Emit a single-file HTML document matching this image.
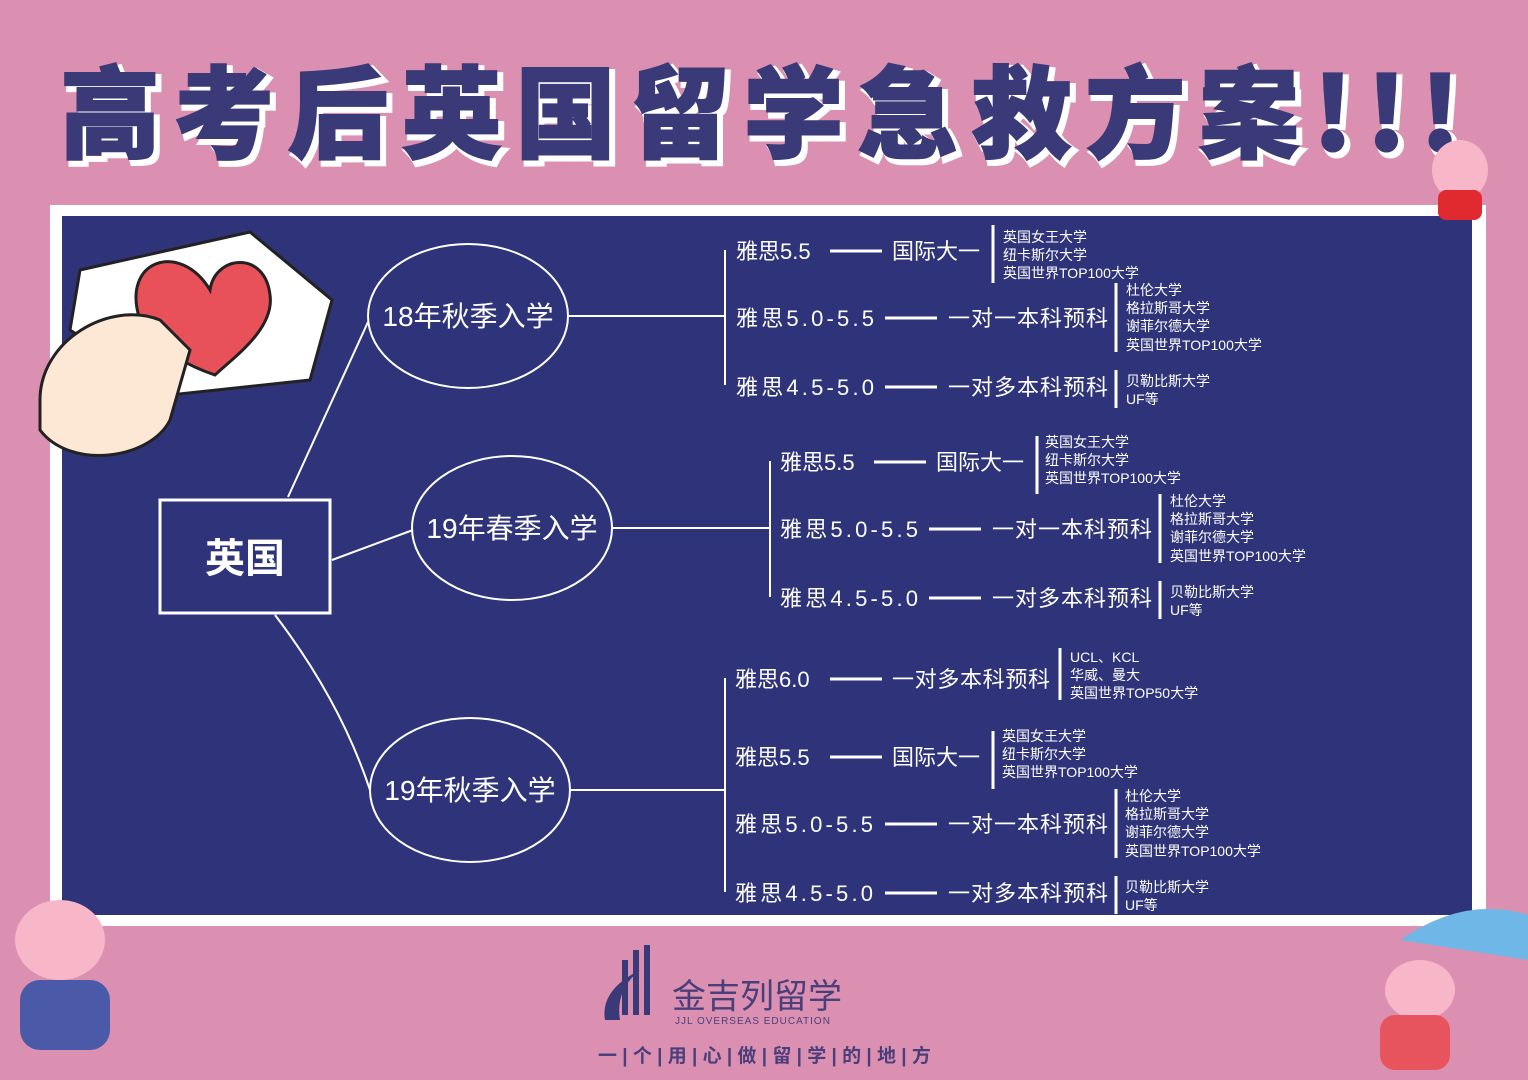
<!DOCTYPE html>
<html><head><meta charset="utf-8"><style>
body{margin:0;width:1528px;height:1080px;background:#dc90b1;overflow:hidden;font-family:"Liberation Sans","Noto Sans CJK SC",sans-serif}
</style></head><body>
<svg width="1528" height="1080" viewBox="0 0 1528 1080" xmlns="http://www.w3.org/2000/svg" style="position:absolute;left:0;top:0">
<rect width="1528" height="1080" fill="#dc90b1"/>
<text x="64" y="154" font-size="100" font-weight="900" fill="#fff" font-family="Noto Sans CJK SC,sans-serif" textLength="1400" lengthAdjust="spacing" stroke="#fff" stroke-width="6">高考后英国留学急救方案!!!</text>
<text x="60" y="150" font-size="100" font-weight="900" fill="#3b3a78" font-family="Noto Sans CJK SC,sans-serif" textLength="1400" lengthAdjust="spacing" stroke="#3b3a78" stroke-width="2">高考后英国留学急救方案!!!</text>
<rect x="50" y="205" width="1436" height="721" fill="#fff"/>
<rect x="62" y="216" width="1410" height="699" fill="#2f347a"/>
<!-- decorations -->
<polygon points="80,270 250,232 332,300 310,380 170,395 70,330" fill="#fff" stroke="#222" stroke-width="3"/>
<path d="M210 290 C180 240 120 260 140 320 C150 350 200 370 215 375 C230 360 275 330 270 295 C265 250 215 255 210 290Z" fill="#e8505a" stroke="#222" stroke-width="3"/>
<path d="M40 400 C40 340 110 300 160 320 L190 350 L170 420 C150 460 70 470 40 430Z" fill="#fde8d6" stroke="#222" stroke-width="3"/>
<ellipse cx="1460" cy="170" rx="28" ry="30" fill="#f7b7c8"/>
<rect x="1438" y="190" width="44" height="30" rx="8" fill="#e02a30"/>
<ellipse cx="60" cy="940" rx="45" ry="40" fill="#f7b7c8"/>
<rect x="20" y="980" width="90" height="70" rx="20" fill="#4a5aa8"/>
<path d="M1400 940 Q1465 895 1528 915 L1528 960 Z" fill="#6fb7e6"/>
<ellipse cx="1420" cy="990" rx="35" ry="30" fill="#f7b7c8"/>
<rect x="1380" y="1015" width="70" height="55" rx="15" fill="#e8545e"/>
<g stroke="#fff" stroke-width="2" fill="none">
<ellipse cx="468" cy="316" rx="100" ry="72"/>
<ellipse cx="512" cy="528" rx="100" ry="72"/>
<ellipse cx="470" cy="790" rx="100" ry="72"/>
<rect x="160" y="500" width="170" height="113" stroke-width="3"/>
<line x1="288" y1="497" x2="368" y2="322"/>
<line x1="332" y1="560" x2="413" y2="530"/>
<path d="M275 615 Q340 700 370 790"/>
<line x1="568" y1="316" x2="725" y2="316"/>
<line x1="725" y1="250" x2="725" y2="385"/>
<line x1="612" y1="528" x2="770" y2="528"/>
<line x1="770" y1="461" x2="770" y2="597"/>
<line x1="570" y1="790" x2="725" y2="790"/>
<line x1="725" y1="678" x2="725" y2="892"/>
</g>
<g stroke="#fff" stroke-width="3">
<line x1="830" y1="251" x2="882" y2="251"/><line x1="885" y1="318" x2="937" y2="318"/><line x1="885" y1="387" x2="937" y2="387"/>
<line x1="874" y1="462" x2="926" y2="462"/><line x1="929" y1="529" x2="981" y2="529"/><line x1="929" y1="598" x2="981" y2="598"/>
<line x1="830" y1="679" x2="882" y2="679"/><line x1="830" y1="757" x2="882" y2="757"/><line x1="885" y1="824" x2="937" y2="824"/><line x1="885" y1="893" x2="937" y2="893"/>
<line x1="993" y1="225" x2="993" y2="283"/><line x1="1116" y1="283" x2="1116" y2="352"/><line x1="1116" y1="370" x2="1116" y2="408"/>
<line x1="1037" y1="436" x2="1037" y2="494"/><line x1="1160" y1="494" x2="1160" y2="563"/><line x1="1160" y1="581" x2="1160" y2="619"/>
<line x1="1060" y1="648" x2="1060" y2="700"/>
<line x1="993" y1="731" x2="993" y2="789"/><line x1="1116" y1="789" x2="1116" y2="858"/><line x1="1116" y1="876" x2="1116" y2="914"/>
</g>
<g fill="#fff" font-size="28">
<text x="468" y="326" text-anchor="middle">18年秋季入学</text>
<text x="512" y="538" text-anchor="middle">19年春季入学</text>
<text x="470" y="800" text-anchor="middle">19年秋季入学</text>
<text x="245" y="572" text-anchor="middle" font-size="40" font-weight="bold">英国</text>
</g>
<g fill="#fff" font-size="22">
<text x="736" y="259">雅思5.5</text><text x="892" y="259">国际大一</text>
<text x="736" y="326" textLength="138">雅思5.0-5.5</text><text x="948" y="326" textLength="160">一对一本科预科</text>
<text x="736" y="395" textLength="138">雅思4.5-5.0</text><text x="948" y="395" textLength="160">一对多本科预科</text>
<text x="780" y="470">雅思5.5</text><text x="936" y="470">国际大一</text>
<text x="780" y="537" textLength="138">雅思5.0-5.5</text><text x="992" y="537" textLength="160">一对一本科预科</text>
<text x="780" y="606" textLength="138">雅思4.5-5.0</text><text x="992" y="606" textLength="160">一对多本科预科</text>
<text x="735" y="687">雅思6.0</text><text x="892" y="687" textLength="158">一对多本科预科</text>
<text x="735" y="765">雅思5.5</text><text x="892" y="765">国际大一</text>
<text x="735" y="832" textLength="138">雅思5.0-5.5</text><text x="948" y="832" textLength="160">一对一本科预科</text>
<text x="735" y="901" textLength="138">雅思4.5-5.0</text><text x="948" y="901" textLength="160">一对多本科预科</text>
</g>
<g fill="#fff" font-size="14">
<text x="1003" y="242">英国女王大学</text><text x="1003" y="260">纽卡斯尔大学</text><text x="1003" y="278">英国世界TOP100大学</text>
<text x="1126" y="295">杜伦大学</text><text x="1126" y="313">格拉斯哥大学</text><text x="1126" y="331">谢菲尔德大学</text><text x="1126" y="350">英国世界TOP100大学</text>
<text x="1126" y="386">贝勒比斯大学</text><text x="1126" y="404">UF等</text>
<text x="1045" y="447">英国女王大学</text><text x="1045" y="465">纽卡斯尔大学</text><text x="1045" y="483">英国世界TOP100大学</text>
<text x="1170" y="506">杜伦大学</text><text x="1170" y="524">格拉斯哥大学</text><text x="1170" y="542">谢菲尔德大学</text><text x="1170" y="561">英国世界TOP100大学</text>
<text x="1170" y="597">贝勒比斯大学</text><text x="1170" y="615">UF等</text>
<text x="1070" y="662">UCL、KCL</text><text x="1070" y="680">华威、曼大</text><text x="1070" y="698">英国世界TOP50大学</text>
<text x="1002" y="741">英国女王大学</text><text x="1002" y="759">纽卡斯尔大学</text><text x="1002" y="777">英国世界TOP100大学</text>
<text x="1125" y="801">杜伦大学</text><text x="1125" y="819">格拉斯哥大学</text><text x="1125" y="837">谢菲尔德大学</text><text x="1125" y="856">英国世界TOP100大学</text>
<text x="1125" y="892">贝勒比斯大学</text><text x="1125" y="910">UF等</text>
</g>
<!-- logo -->
<path d="M605 1020 Q600 990 640 970 Q615 990 620 1020 Z" fill="#3b3a78"/>
<rect x="622" y="960" width="6" height="55" fill="#3b3a78"/><rect x="633" y="950" width="6" height="65" fill="#3b3a78"/><rect x="644" y="945" width="6" height="70" fill="#3b3a78"/>
<text x="672" y="1008" font-size="34" fill="#4a3f7a">金吉列留学</text>
<text x="675" y="1024" font-size="10" fill="#4a3f7a" letter-spacing="1">JJL OVERSEAS EDUCATION</text>
<text x="598" y="1062" font-size="19" fill="#4a3f7a" font-weight="bold">一 | 个 | 用 | 心 | 做 | 留 | 学 | 的 | 地 | 方</text>
</svg>
</body></html>
